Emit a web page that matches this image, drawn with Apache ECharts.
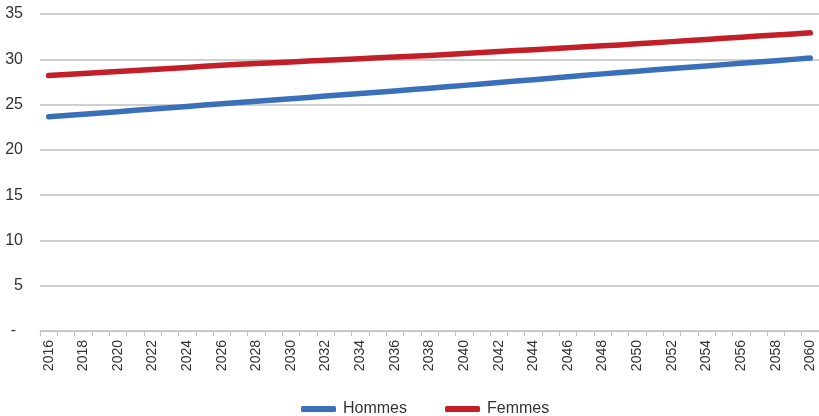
<!DOCTYPE html>
<html>
<head>
<meta charset="utf-8">
<script src="https://cdn.jsdelivr.net/npm/echarts@6/dist/echarts.min.js"></script>
<style>
  html, body { margin: 0; padding: 0; background: #fff; }
  #chart { width: 819px; height: 416px; }
</style>
</head>
<body>
<div id="chart"></div>
<script>
// Years covered by the projection
const years = [];
for (let y = 2016; y <= 2060; y++) years.push(String(y));

// Values per year, 2016 to 2060
const hommes = [
  23.65, 23.79, 23.94, 24.08, 24.22, 24.37, 24.51, 24.65, 24.79, 24.94,
  25.08, 25.22, 25.36, 25.51, 25.65, 25.79, 25.94, 26.08, 26.22, 26.37,
  26.51, 26.66, 26.80, 26.96, 27.12, 27.28, 27.44, 27.60, 27.75, 27.91,
  28.07, 28.23, 28.39, 28.55, 28.69, 28.84, 28.98, 29.12, 29.27, 29.41,
  29.55, 29.70, 29.84, 29.99, 30.13
];
const femmes = [
  28.20, 28.31, 28.42, 28.54, 28.65, 28.76, 28.88, 28.99, 29.10, 29.22,
  29.33, 29.44, 29.53, 29.62, 29.71, 29.80, 29.89, 29.98, 30.07, 30.16,
  30.25, 30.34, 30.43, 30.54, 30.64, 30.75, 30.85, 30.96, 31.06, 31.17,
  31.28, 31.38, 31.49, 31.59, 31.71, 31.83, 31.95, 32.07, 32.19, 32.32,
  32.44, 32.56, 32.68, 32.80, 32.92
];

const seriesNames = ['Hommes', 'Femmes'];
const colors = ['#3a70ba', '#c21f29'];
const font = '"Liberation Sans Narrow", "Liberation Sans", Roboto, sans-serif';

const chart = echarts.init(document.getElementById('chart'), null, { renderer: 'canvas' });

chart.setOption({
  animation: false,
  color: colors,
  grid: { left: 40, right: -4, top: 14, bottom: 85, containLabel: false },
  legend: {
    data: seriesNames,
    left: 296,
    top: 396,
    icon: 'roundRect',
    itemWidth: 35,
    itemHeight: 6,
    itemGap: 38,
    textStyle: { fontFamily: font, fontSize: 16, color: '#333', padding: [0, 0, 0, 2] }
  },
  xAxis: {
    type: 'category',
    data: years,
    boundaryGap: true,
    axisLine: { show: true, lineStyle: { color: '#bfbfbf', width: 1 } },
    axisTick: { show: true, interval: 0, length: 5, lineStyle: { color: '#bfbfbf' } },
    axisLabel: {
      interval: 1,
      rotate: 90,
      margin: 9,
      fontFamily: font,
      fontSize: 14,
      color: '#333'
    },
    splitLine: { show: false }
  },
  yAxis: {
    type: 'value',
    min: 0,
    max: 35,
    interval: 5,
    axisLine: { show: false },
    axisTick: { show: false },
    axisLabel: {
      margin: 17,
      fontFamily: font,
      fontSize: 16,
      color: '#333',
      formatter: v => (v === 0 ? '{d|-}' : String(v)),
      rich: { d: { fontFamily: font, fontSize: 16, color: '#333', padding: [0, 7, 0, 0] } }
    },
    splitLine: { show: true, lineStyle: { color: '#bfbfbf', width: 1.5 } }
  },
  series: [
    {
      name: seriesNames[0],
      type: 'line',
      data: hommes,
      symbol: 'none',
      lineStyle: { width: 5.5, cap: 'round', join: 'round' }
    },
    {
      name: seriesNames[1],
      type: 'line',
      data: femmes,
      symbol: 'none',
      lineStyle: { width: 5.5, cap: 'round', join: 'round' }
    }
  ]
});
</script>
</body>
</html>
